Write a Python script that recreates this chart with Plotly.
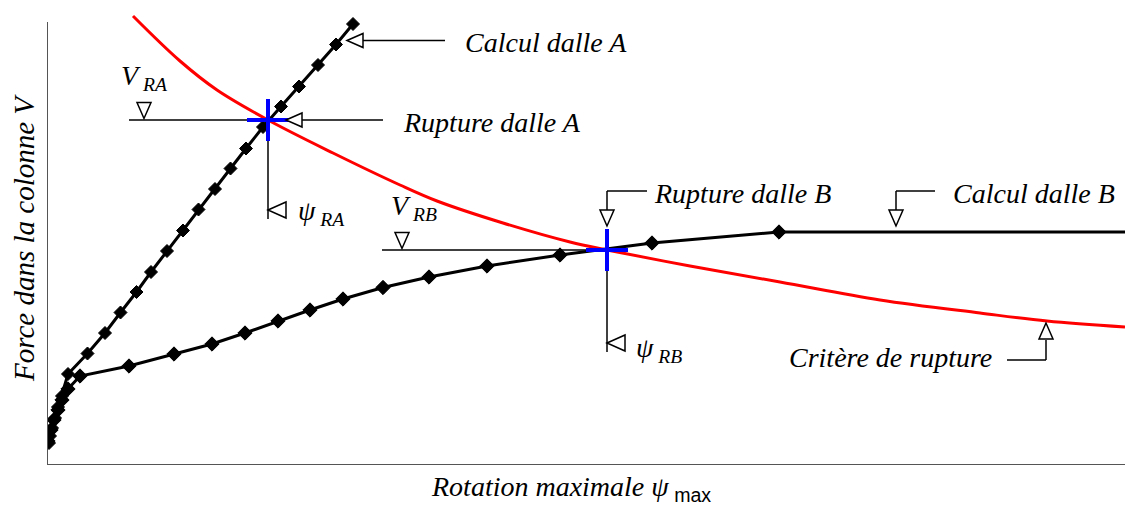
import plotly.graph_objects as go

# Column force V versus maximal rotation psi (arbitrary units, no ticks shown)
# Load-rotation curve of slab A
psi_a = [2, 3, 5, 8, 11, 15, 21, 40.5, 58, 73.5, 89.5, 104, 120, 136, 151.5,
         168, 183.5, 199, 216, 234, 252, 271, 289, 306]
v_a = [22, 29, 37, 47, 58, 69, 91, 111.5, 132, 152.5, 173, 193, 214, 234.5,
       255.5, 276, 296.5, 316.5, 338, 358.5, 378.5, 400, 420.5, 441]

# Load-rotation curve of slab B
psi_b = [1, 4, 7, 11, 15, 21, 33, 82, 127, 165, 198, 231, 263, 296, 336,
         382, 440, 513, 605, 732, 1078]
v_b = [24, 35, 45, 55, 65, 76, 89, 99, 111, 121, 132, 144, 155, 166, 177.5,
       188, 199, 210, 222, 233, 233]

# Failure criterion
psi_crit = [86, 133, 170, 221, 286, 353, 390, 456, 523, 560, 643, 733, 833,
            933, 1000, 1078]
v_crit = [449, 404, 375, 345, 312, 280, 264, 242, 223, 215, 199, 183, 165,
          152, 144, 138]

# Failure points (intersection of each slab curve with the criterion)
psi_ra, v_ra = 221, 345
psi_rb, v_rb = 560, 215

X_MAX, Y_MAX = 1078, 465
SERIF = "Liberation Serif"
INK = "black"

fig = go.Figure()

fig.add_trace(go.Scatter(
    x=psi_crit, y=v_crit, mode="lines", line=dict(color="#FF0000", width=3, shape="spline"),
    hoverinfo="skip", showlegend=False))

fig.add_trace(go.Scatter(
    x=psi_a, y=v_a, mode="lines+markers", line=dict(color=INK, width=3),
    marker=dict(symbol="diamond", size=10, color=INK, opacity=1,
                line=dict(color=INK, width=1)),
    showlegend=False))

sizes_b = [11] * (len(psi_b) - 1) + [0]
fig.add_trace(go.Scatter(
    x=psi_b, y=v_b, mode="lines+markers", line=dict(color=INK, width=3),
    marker=dict(symbol="diamond", size=sizes_b, color=INK, opacity=1,
                line=dict(color=INK, width=1)),
    showlegend=False))

fig.add_trace(go.Scatter(
    x=[psi_ra, psi_rb], y=[v_ra, v_rb], mode="markers",
    marker=dict(symbol="cross-thin", size=30, line=dict(color="#0000FF", width=4)),
    showlegend=False))

shapes = []


def seg(x0, y0, x1, y1, w=1.5):
    shapes.append(dict(type="line", xref="x", yref="y", x0=x0, y0=y0, x1=x1, y1=y1,
                       line=dict(color=INK, width=w), layer="below"))


def tri(points):
    path = "M " + " L ".join(f"{px},{py}" for px, py in points) + " Z"
    shapes.append(dict(type="path", xref="x", yref="y", path=path,
                       fillcolor="white", line=dict(color=INK, width=1.5)))


def tri_left(x, y, w=16, h=7):
    tri([(x, y), (x + w, y + h), (x + w, y - h)])


def tri_down(x, y, w=7, h=16):
    tri([(x, y), (x - w, y + h), (x + w, y + h)])


def tri_up(x, y, w=7, h=16):
    tri([(x, y), (x - w, y - h), (x + w, y - h)])


# axes
shapes.append(dict(type="line", xref="x", yref="y", x0=0, y0=0, x1=X_MAX, y1=0,
                   line=dict(color="#555555", width=2)))
shapes.append(dict(type="line", xref="x", yref="y", x0=0, y0=0, x1=0, y1=443,
                   line=dict(color="#555555", width=2)))

# Calcul dalle A
seg(315, 424.5, 398, 424.5)
tri_left(300, 424.5)
# Rupture dalle A
seg(255, v_ra, 336, v_ra)
tri_left(239, v_ra)
# V_RA
seg(82, v_ra, 200, v_ra)
tri_down(97, v_ra + 1.5)
# psi_RA
seg(psi_ra, v_ra, psi_ra, 246)
tri_left(psi_ra, 255, w=18, h=8)
# V_RB
seg(335, v_rb, psi_rb, v_rb)
tri_down(355, v_rb + 1.5)
# Rupture dalle B
seg(psi_rb, 274, psi_rb, 254)
seg(psi_rb, 274, 600, 274)
tri_down(psi_rb, 239)
# psi_RB
seg(psi_rb, v_rb, psi_rb, 113)
tri_left(psi_rb, 122, w=18, h=8)
# Calcul dalle B
seg(849, 274, 849, 254)
seg(849, 274, 888, 274)
tri_down(849, 239)
# Critere de rupture
seg(999, 105, 999, 125)
seg(960, 105, 999, 105)
tri_up(999, 142)

FS = 28
annotations = []


def label(text, x, y, xanchor="left", size=FS, angle=0, ref="x"):
    annotations.append(dict(text=text, x=x, y=y,
                            xref="x" if ref == "x" else "paper",
                            yref="y" if ref == "x" else "paper",
                            showarrow=False,
                            xanchor=xanchor, yanchor="middle", textangle=angle,
                            font=dict(family=SERIF, size=size, color=INK)))


label("<i>Calcul dalle A</i>", 416, 423)
label("<i>Rupture dalle A</i>", 354, 343)
label("<i>Rupture dalle B</i>", 605, 272)
label("<i>Calcul dalle B</i>", 904, 272)
label("<i>Critère de rupture</i>", 740, 108)
label("<i>V<sub> RA</sub></i>", 72, 388)
label("<i>V<sub> RB</sub></i>", 342, 258)
label("<i>ψ<sub> RA</sub></i>", 249, 253)
label("<i>ψ<sub> RB</sub></i>", 587, 116)

# axis titles sit outside the plotting area, so they are placed in paper units
label("<i>Rotation maximale ψ</i><sub><span style='font-family:Liberation Sans'> max</span></sub>",
      (571 - 47) / X_MAX, (465 - 489) / Y_MAX, xanchor="center", ref="paper")
label("<i>Force dans la colonne V</i>", (24 - 47) / X_MAX, (465 - 238) / Y_MAX,
      xanchor="center", angle=-90, size=29, ref="paper")

fig.update_layout(
    width=1125, height=506,
    margin=dict(l=47, r=0, t=0, b=41),
    paper_bgcolor="white", plot_bgcolor="white",
    shapes=shapes, annotations=annotations,
    xaxis=dict(range=[0, X_MAX], showgrid=False, zeroline=False, showticklabels=False,
               ticks="", showline=False, fixedrange=True),
    yaxis=dict(range=[0, Y_MAX], showgrid=False, zeroline=False, showticklabels=False,
               ticks="", showline=False, fixedrange=True),
    showlegend=False,
)

fig.write_html("out.html")
